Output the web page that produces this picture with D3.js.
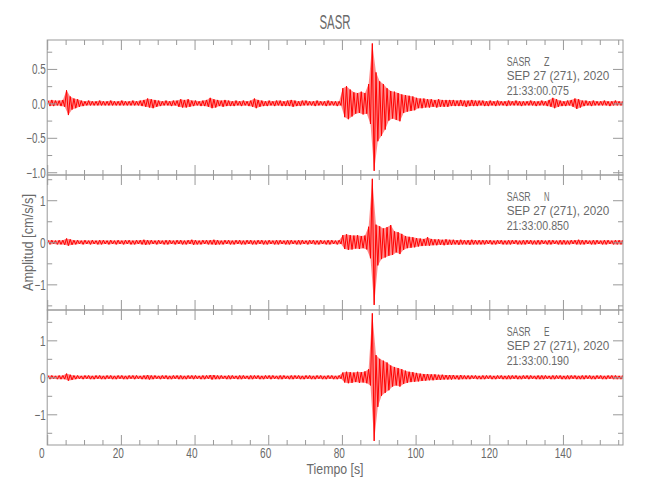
<!DOCTYPE html>
<html><head><meta charset="utf-8">
<script src="https://cdn.jsdelivr.net/npm/d3@7"></script>
<style>body{margin:0;background:#fff} text{font-family:"Liberation Sans",Arial,sans-serif;fill:#6a6a6a;}</style>
</head><body><svg id="c" width="650" height="500"></svg>
<script>
// ---- data ----
const title = "SASR";
const station = "SASR";
const components = ["Z", "N", "E"];
const dateLabel = "SEP 27 (271), 2020";
const startTimes = ["21:33:00.075", "21:33:00.850", "21:33:00.190"];
const xLabel = "Tiempo [s]";
const yLabel = "Amplitud [cm/s/s]";
const xDomain = [0, 156.3];
const xMajor = [0, 20, 40, 60, 80, 100, 120, 140];
const xMinor = [5,10,15,25,30,35,45,50,55,65,70,75,85,90,95,105,110,115,125,130,135,145,150,155];
const yDomains = [[-1.04, 0.92], [-1.61, 1.60], [-1.83, 1.82]];
const yMajor = [[-1, -0.5, 0, 0.5], [-1, 0, 1], [-1, 0, 1]];
const yMinor = [[-0.75, -0.25, 0.25, 0.75], [-1.5, -0.5, 0.5, 1.5], [-1.5, -0.5, 0.5, 1.5]];
const yFormats = [".1f", "d", "d"];
const binSeconds = 1; // each entry = max / min of the trace over one second

const zHi = [0.04,0.05,0.04,0.04,0.05,0.19,0.10,0.07,0.06,0.04,
0.03,0.04,0.03,0.03,0.04,0.03,0.03,0.04,0.03,0.03,
0.04,0.03,0.03,0.04,0.03,0.04,0.05,0.07,0.06,0.05,
0.04,0.03,0.04,0.03,0.04,0.04,0.06,0.05,0.06,0.04,
0.04,0.03,0.04,0.05,0.08,0.06,0.05,0.04,0.05,0.04,
0.03,0.04,0.03,0.04,0.03,0.04,0.07,0.05,0.04,0.03,
0.04,0.03,0.04,0.04,0.03,0.04,0.05,0.04,0.03,0.04,
0.04,0.03,0.03,0.04,0.03,0.03,0.04,0.03,0.03,0.03,
0.22,0.25,0.20,0.16,0.15,0.17,0.15,0.28,0.87,0.45,
0.32,0.28,0.22,0.18,0.17,0.15,0.13,0.12,0.11,0.10,
0.08,0.07,0.07,0.06,0.06,0.05,0.06,0.05,0.05,0.05,
0.05,0.04,0.05,0.04,0.04,0.05,0.04,0.04,0.04,0.03,
0.04,0.03,0.04,0.03,0.03,0.04,0.03,0.04,0.03,0.03,
0.03,0.04,0.03,0.03,0.04,0.03,0.05,0.08,0.06,0.04,
0.03,0.04,0.05,0.07,0.06,0.04,0.04,0.03,0.04,0.03,
0.03,0.04,0.03,0.03,0.04,0.03,0.03];
const zLo = [-0.04,-0.04,-0.03,-0.04,-0.05,-0.17,-0.09,-0.07,-0.05,-0.04,
-0.03,-0.03,-0.03,-0.03,-0.03,-0.03,-0.03,-0.03,-0.03,-0.03,
-0.03,-0.03,-0.03,-0.03,-0.03,-0.04,-0.05,-0.06,-0.07,-0.05,
-0.04,-0.03,-0.03,-0.04,-0.03,-0.05,-0.06,-0.06,-0.05,-0.04,
-0.03,-0.04,-0.04,-0.05,-0.07,-0.06,-0.04,-0.05,-0.04,-0.04,
-0.04,-0.03,-0.04,-0.03,-0.04,-0.05,-0.07,-0.05,-0.04,-0.04,
-0.03,-0.04,-0.03,-0.04,-0.04,-0.04,-0.05,-0.04,-0.04,-0.03,
-0.03,-0.03,-0.04,-0.03,-0.03,-0.04,-0.03,-0.03,-0.04,-0.03,
-0.20,-0.23,-0.19,-0.15,-0.14,-0.16,-0.15,-0.30,-0.98,-0.55,
-0.47,-0.38,-0.25,-0.22,-0.24,-0.26,-0.14,-0.12,-0.11,-0.10,
-0.07,-0.07,-0.06,-0.06,-0.05,-0.06,-0.05,-0.05,-0.05,-0.04,
-0.04,-0.04,-0.04,-0.05,-0.04,-0.04,-0.04,-0.03,-0.04,-0.04,
-0.03,-0.04,-0.03,-0.03,-0.04,-0.03,-0.03,-0.03,-0.04,-0.03,
-0.03,-0.03,-0.04,-0.03,-0.03,-0.04,-0.05,-0.07,-0.05,-0.04,
-0.04,-0.03,-0.05,-0.08,-0.06,-0.04,-0.03,-0.04,-0.03,-0.03,
-0.03,-0.03,-0.04,-0.03,-0.03,-0.03,-0.03];

const nHi = [0.05,0.05,0.04,0.05,0.05,0.09,0.07,0.05,0.05,0.04,
0.05,0.04,0.05,0.04,0.05,0.05,0.04,0.05,0.04,0.05,
0.04,0.05,0.05,0.04,0.05,0.05,0.06,0.05,0.05,0.04,
0.05,0.04,0.05,0.05,0.04,0.05,0.05,0.04,0.05,0.06,
0.05,0.04,0.05,0.05,0.05,0.06,0.05,0.04,0.05,0.05,
0.04,0.05,0.05,0.04,0.05,0.05,0.04,0.05,0.05,0.04,
0.05,0.04,0.05,0.05,0.04,0.05,0.05,0.04,0.05,0.05,
0.04,0.05,0.05,0.04,0.05,0.04,0.05,0.05,0.04,0.05,
0.17,0.19,0.17,0.16,0.17,0.15,0.16,0.37,1.51,0.42,
0.38,0.33,0.36,0.41,0.26,0.24,0.20,0.15,0.13,0.12,
0.10,0.09,0.08,0.12,0.08,0.07,0.07,0.06,0.07,0.06,
0.06,0.05,0.06,0.05,0.05,0.06,0.05,0.05,0.05,0.05,
0.05,0.04,0.05,0.05,0.04,0.05,0.05,0.05,0.04,0.05,
0.05,0.05,0.04,0.05,0.05,0.04,0.05,0.05,0.04,0.05,
0.05,0.04,0.05,0.05,0.06,0.05,0.05,0.04,0.05,0.05,
0.04,0.05,0.05,0.04,0.05,0.05,0.05];
const nLo = [-0.05,-0.04,-0.05,-0.05,-0.06,-0.08,-0.06,-0.05,-0.04,-0.05,
-0.04,-0.05,-0.04,-0.05,-0.05,-0.04,-0.05,-0.04,-0.05,-0.04,
-0.05,-0.04,-0.05,-0.05,-0.04,-0.05,-0.06,-0.05,-0.04,-0.05,
-0.04,-0.05,-0.05,-0.04,-0.05,-0.04,-0.05,-0.05,-0.04,-0.06,
-0.05,-0.05,-0.04,-0.05,-0.05,-0.06,-0.05,-0.05,-0.04,-0.05,
-0.05,-0.04,-0.05,-0.05,-0.04,-0.05,-0.05,-0.04,-0.05,-0.05,
-0.04,-0.05,-0.05,-0.04,-0.05,-0.05,-0.04,-0.05,-0.05,-0.04,
-0.05,-0.04,-0.05,-0.05,-0.04,-0.05,-0.05,-0.04,-0.05,-0.04,
-0.16,-0.18,-0.17,-0.15,-0.16,-0.14,-0.17,-0.38,-1.49,-0.55,
-0.40,-0.36,-0.32,-0.30,-0.24,-0.28,-0.18,-0.14,-0.13,-0.12,
-0.10,-0.09,-0.08,-0.08,-0.07,-0.07,-0.06,-0.07,-0.06,-0.06,
-0.05,-0.06,-0.05,-0.05,-0.06,-0.05,-0.05,-0.05,-0.05,-0.04,
-0.05,-0.05,-0.04,-0.05,-0.05,-0.05,-0.04,-0.05,-0.05,-0.05,
-0.04,-0.05,-0.05,-0.05,-0.04,-0.05,-0.05,-0.04,-0.05,-0.05,
-0.05,-0.05,-0.04,-0.05,-0.05,-0.05,-0.04,-0.05,-0.05,-0.04,
-0.05,-0.05,-0.04,-0.05,-0.05,-0.05,-0.05];

const eHi = [0.05,0.05,0.04,0.05,0.05,0.10,0.07,0.05,0.05,0.04,
0.05,0.05,0.04,0.05,0.05,0.04,0.05,0.05,0.04,0.05,
0.05,0.04,0.05,0.05,0.05,0.04,0.05,0.06,0.05,0.05,
0.04,0.05,0.05,0.04,0.05,0.05,0.05,0.04,0.05,0.05,
0.05,0.04,0.05,0.05,0.06,0.06,0.05,0.05,0.04,0.05,
0.05,0.04,0.05,0.05,0.04,0.05,0.05,0.05,0.04,0.05,
0.05,0.05,0.04,0.05,0.05,0.04,0.05,0.05,0.05,0.04,
0.05,0.05,0.04,0.05,0.05,0.04,0.05,0.05,0.04,0.05,
0.13,0.15,0.14,0.13,0.15,0.14,0.16,0.22,1.73,0.60,
0.50,0.45,0.40,0.32,0.28,0.25,0.22,0.18,0.15,0.14,
0.12,0.10,0.09,0.09,0.08,0.08,0.07,0.07,0.06,0.06,
0.06,0.05,0.06,0.05,0.05,0.05,0.05,0.04,0.05,0.05,
0.05,0.04,0.05,0.05,0.04,0.05,0.05,0.05,0.04,0.05,
0.05,0.05,0.04,0.05,0.05,0.05,0.04,0.05,0.05,0.05,
0.04,0.05,0.05,0.05,0.04,0.05,0.05,0.05,0.04,0.05,
0.05,0.04,0.05,0.05,0.05,0.04,0.05];
const eLo = [-0.05,-0.04,-0.05,-0.05,-0.05,-0.09,-0.07,-0.05,-0.04,-0.05,
-0.04,-0.05,-0.05,-0.04,-0.05,-0.05,-0.04,-0.05,-0.05,-0.04,
-0.05,-0.05,-0.04,-0.05,-0.04,-0.05,-0.05,-0.06,-0.05,-0.04,
-0.05,-0.04,-0.05,-0.05,-0.04,-0.05,-0.05,-0.05,-0.04,-0.05,
-0.04,-0.05,-0.05,-0.04,-0.06,-0.05,-0.05,-0.04,-0.05,-0.05,
-0.04,-0.05,-0.05,-0.04,-0.05,-0.05,-0.04,-0.05,-0.05,-0.04,
-0.05,-0.04,-0.05,-0.05,-0.04,-0.05,-0.05,-0.04,-0.05,-0.05,
-0.04,-0.05,-0.05,-0.04,-0.05,-0.05,-0.04,-0.05,-0.05,-0.04,
-0.14,-0.16,-0.15,-0.13,-0.15,-0.14,-0.16,-0.22,-1.72,-0.80,
-0.50,-0.42,-0.35,-0.25,-0.22,-0.25,-0.18,-0.15,-0.13,-0.12,
-0.11,-0.10,-0.09,-0.08,-0.08,-0.07,-0.07,-0.06,-0.06,-0.06,
-0.05,-0.06,-0.05,-0.05,-0.05,-0.04,-0.05,-0.05,-0.05,-0.04,
-0.05,-0.05,-0.04,-0.05,-0.05,-0.05,-0.04,-0.05,-0.05,-0.04,
-0.05,-0.04,-0.05,-0.05,-0.05,-0.04,-0.05,-0.05,-0.04,-0.05,
-0.05,-0.05,-0.04,-0.05,-0.05,-0.05,-0.04,-0.05,-0.05,-0.04,
-0.05,-0.05,-0.04,-0.05,-0.05,-0.05,-0.04];

const traces = [[zHi, zLo], [nHi, nLo], [eHi, eLo]];

// ---- layout ----
const svg = d3.select("#c");
const L = 47.2, R = 623, tops = [40, 175, 310], H = 135;
const axisCol = "#999";
const x = d3.scaleLinear().domain(xDomain).range([L, R]);

svg.append("text").attr("x", 335).attr("y", 29).attr("text-anchor", "middle")
  .attr("font-size", 20).attr("textLength", 31).attr("lengthAdjust", "spacingAndGlyphs").text(title);

function styleAxis(g) {
  g.select(".domain").remove();
  g.selectAll("line").attr("stroke", axisCol);
  g.selectAll("text").attr("fill", "#6a6a6a").attr("font-size", 14).attr("font-family", null);
}

traces.forEach((tr, k) => {
  const top = tops[k], bot = top + H;
  const y = d3.scaleLinear().domain(yDomains[k]).range([bot, top]);
  const g = svg.append("g");

  g.append("clipPath").attr("id", "clip" + k).append("rect")
    .attr("x", L).attr("y", top).attr("width", R - L).attr("height", H);

  const bins = tr[0].map((hi, i) => ({ t: i * binSeconds, hi: hi, lo: tr[1][i] }));
  const clip = g.append("g").attr("clip-path", "url(#clip" + k + ")");

  // envelope band (dense wiggles between each second's max and min)
  clip.append("path")
    .attr("d", d3.area()
      .x1(d => x(d.t + 0.25 * binSeconds)).y1(d => y(d.hi))
      .x0(d => x(d.t + 0.75 * binSeconds)).y0(d => y(d.lo))(bins))
    .attr("fill", "#ff0000").attr("fill-opacity", 0.45).attr("stroke", "none");

  // trace: each second's max and min joined in a zigzag
  const pts = [];
  bins.forEach(b => {
    pts.push([b.t + 0.25 * binSeconds, b.hi]);
    pts.push([b.t + 0.75 * binSeconds, b.lo]);
  });
  clip.append("path")
    .attr("d", d3.line().x(d => x(d[0])).y(d => y(d[1]))(pts))
    .attr("fill", "none").attr("stroke", "#ff0000").attr("stroke-width", 1);

  // frame
  g.append("rect").attr("x", L).attr("y", top).attr("width", R - L).attr("height", H)
    .attr("fill", "none").attr("stroke", axisCol).attr("stroke-width", 1);

  // x ticks (top and bottom, inward)
  const last = k === traces.length - 1;
  g.append("g").attr("transform", `translate(0,${bot})`)
    .call(d3.axisBottom(x).tickValues(xMajor).tickSizeInner(-10).tickSizeOuter(0)
      .tickPadding(last ? 20 : 0).tickFormat(last ? d3.format("d") : ""))
    .call(styleAxis)
    .call(a => a.selectAll("text").attr("text-anchor", "start").attr("dx", 0)
      .attr("x", -8.7).attr("y", 13).attr("dy", 0)
      .each(function(d){ const n = String(d).length; d3.select(this).attr("textLength", n * 5.6).attr("lengthAdjust", "spacingAndGlyphs"); }));
  g.append("g").attr("transform", `translate(0,${bot})`)
    .call(d3.axisBottom(x).tickValues(xMinor).tickSizeInner(-5).tickSizeOuter(0).tickFormat(""))
    .call(styleAxis);
  g.append("g").attr("transform", `translate(0,${top})`)
    .call(d3.axisTop(x).tickValues(xMajor).tickSizeInner(-10).tickSizeOuter(0).tickFormat(""))
    .call(styleAxis);
  g.append("g").attr("transform", `translate(0,${top})`)
    .call(d3.axisTop(x).tickValues(xMinor).tickSizeInner(-5).tickSizeOuter(0).tickFormat(""))
    .call(styleAxis);

  // y ticks (left and right, inward)
  const fmt = d3.format(yFormats[k]);
  g.append("g").attr("transform", `translate(${L},0)`)
    .call(d3.axisLeft(y).tickValues(yMajor[k]).tickSizeInner(-10).tickSizeOuter(0).tickFormat(fmt))
    .call(styleAxis)
    .call(a => a.selectAll("text").attr("x", -1.5).attr("dy", 0).attr("y", 5)
      .each(function(d){ const s = fmt(d); const w = s.length * 5.6 - (s.includes(".") ? 3 : 0); d3.select(this).attr("textLength", w).attr("lengthAdjust", "spacingAndGlyphs"); }));
  g.append("g").attr("transform", `translate(${L},0)`)
    .call(d3.axisLeft(y).tickValues(yMinor[k]).tickSizeInner(-5).tickSizeOuter(0).tickFormat(""))
    .call(styleAxis);
  g.append("g").attr("transform", `translate(${R},0)`)
    .call(d3.axisRight(y).tickValues(yMajor[k]).tickSizeInner(-10).tickSizeOuter(0).tickFormat(""))
    .call(styleAxis);
  g.append("g").attr("transform", `translate(${R},0)`)
    .call(d3.axisRight(y).tickValues(yMinor[k]).tickSizeInner(-5).tickSizeOuter(0).tickFormat(""))
    .call(styleAxis);

  // annotation
  const ann = g.append("g").attr("font-size", 13);
  ann.append("text").attr("x", 506.7).attr("y", top + 26).attr("textLength", 24)
    .attr("lengthAdjust", "spacingAndGlyphs").text(station);
  ann.append("text").attr("x", 544).attr("y", top + 26).attr("textLength", 5.5)
    .attr("lengthAdjust", "spacingAndGlyphs").text(components[k]);
  ann.append("text").attr("x", 506.7).attr("y", top + 40).attr("textLength", 102.6)
    .attr("lengthAdjust", "spacingAndGlyphs").text(dateLabel);
  ann.append("text").attr("x", 506.7).attr("y", top + 55).attr("textLength", 62.3)
    .attr("lengthAdjust", "spacingAndGlyphs").text(startTimes[k]);
});

svg.append("text").attr("x", 335).attr("y", 474).attr("text-anchor", "middle")
  .attr("font-size", 14).attr("textLength", 57).attr("lengthAdjust", "spacingAndGlyphs").text(xLabel);
svg.append("text").attr("transform", "translate(33,242.5) rotate(-90)").attr("text-anchor", "middle")
  .attr("font-size", 14).attr("textLength", 97).attr("lengthAdjust", "spacingAndGlyphs").text(yLabel);
</script></body></html>
